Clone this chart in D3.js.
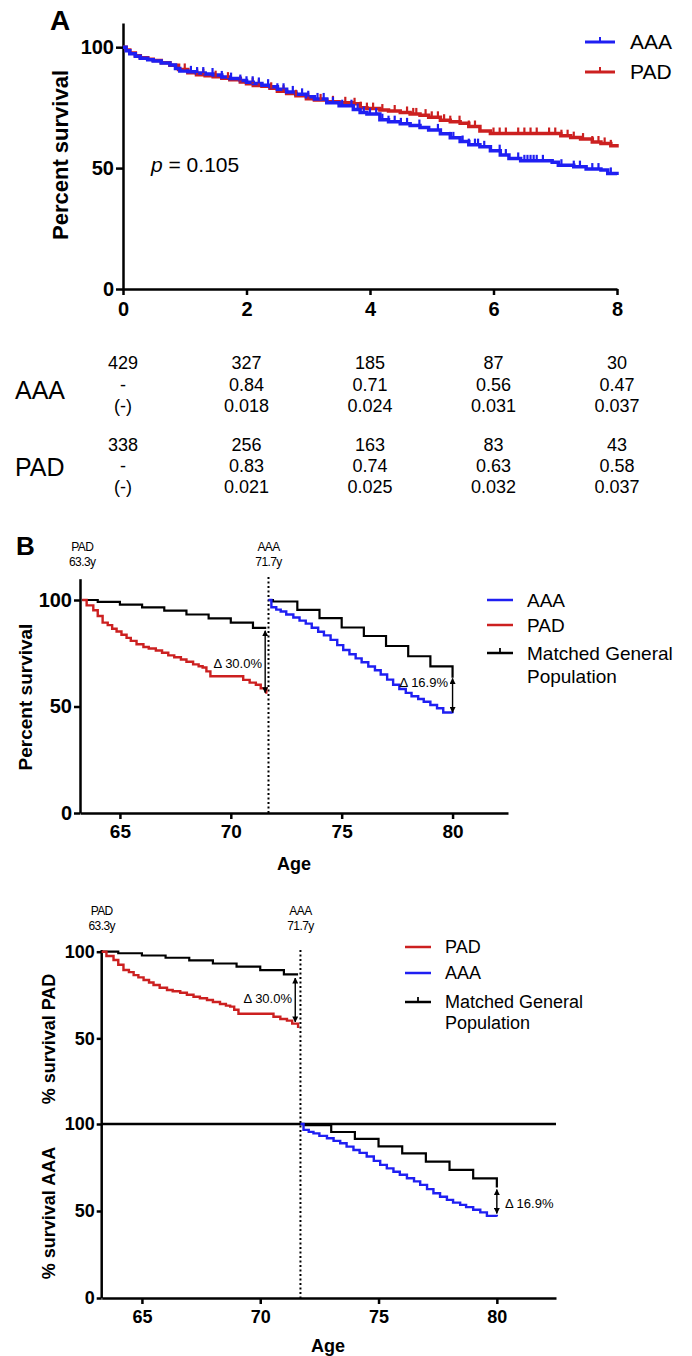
<!DOCTYPE html>
<html lang="en">
<head>
  <meta charset="UTF-8">
  <title>Survival: AAA vs PAD</title>
  <script src="https://d3js.org/d3.v7.min.js"></script>
  <style>
    body { margin: 0; background: #fff; }
    svg text { font-family: "Liberation Sans", Arial, sans-serif; fill: #000; }
    .axis path, .axis line { stroke: #000; stroke-width: 2.5px; }
    .axis text { font-weight: bold; }
    .km { fill: none; stroke-linejoin: miter; }
  </style>
</head>
<body>
<svg id="fig" width="692" height="1356"></svg>
<script>
  // ---- data ----
  const blue = "#1f1ff2", red = "#cc2020";

  // panel A: Kaplan-Meier, years since surgery -> % survival
  const aaaKM = [[0,100],[0.05,98.5],[0.11,97.3],[0.2,96.3],[0.28,95.4],[0.4,94.8],[0.49,94.3],[0.62,93.5],
    [0.76,92.6],[0.85,91.2],[0.92,90.2],[1.05,89.8],[1.19,89.3],[1.33,88.9],[1.46,88.5],[1.6,87.7],[1.73,87.0],
    [1.9,86.2],[2.0,85.5],[2.11,85.0],[2.25,84.3],[2.38,83.6],[2.5,82.6],[2.65,81.5],[2.8,80.5],[2.97,79.5],
    [3.1,78.6],[3.3,77.0],[3.5,75.8],[3.73,74.2],[3.84,73.0],[3.95,72.4],[4.16,70.0],[4.3,69.2],[4.49,68.3],
    [4.65,67.6],[4.81,66.8],[4.95,65.8],[5.14,64.2],[5.3,62.5],[5.46,61.0],[5.6,59.7],[5.78,58.8],[5.95,57.2],
    [6.11,55.4],[6.25,54.0],[6.44,53.0],[6.95,52.4],[7.05,51.2],[7.3,50.6],[7.5,49.6],[7.74,49.2],[7.85,47.8],[8.0,47.1]];
  const padKM = [[0,100],[0.05,98.8],[0.11,97.6],[0.2,96.5],[0.28,95.6],[0.4,95.0],[0.49,94.5],[0.62,93.6],
    [0.76,92.5],[0.9,90.8],[1.05,89.4],[1.19,88.6],[1.33,88.2],[1.46,87.8],[1.6,87.2],[1.73,86.5],[1.9,85.6],
    [2.0,84.9],[2.11,84.2],[2.25,83.8],[2.38,83.0],[2.5,81.8],[2.65,80.8],[2.8,79.9],[2.97,78.7],[3.1,78.2],
    [3.3,77.4],[3.5,77.0],[3.73,76.6],[3.84,75.0],[3.95,74.6],[4.16,74.0],[4.3,73.6],[4.49,73.0],[4.65,72.4],
    [4.81,71.9],[4.95,71.0],[5.14,69.8],[5.3,69.2],[5.46,68.5],[5.6,67.2],[5.78,65.3],[5.95,64.3],[6.9,64.3],
    [7.09,63.4],[7.25,62.6],[7.41,62.0],[7.6,60.8],[7.74,60.2],[7.9,59.2],[8.0,58.5]];
  const aaaCensor = [1.1,1.2,1.3,1.45,1.6,1.75,1.9,2.0,2.1,2.2,2.35,2.5,2.6,2.75,2.9,3.0,3.15,3.25,3.4,3.55,3.7,
    3.8,3.9,4.0,4.1,4.2,4.3,4.4,4.5,4.6,4.8,5.1,5.3,5.35,5.5,5.6,5.7,5.75,5.85,6.1,6.2,6.4,6.5,6.55,6.6,6.65,
    6.7,6.8,7.1,7.3,7.4,7.6,7.7,7.9];
  const padCensor = [1.0,1.2,1.3,1.5,1.7,1.9,2.1,2.2,2.4,2.6,2.8,3.0,3.2,3.4,3.6,3.75,3.85,3.95,4.05,4.2,4.4,
    4.6,4.7,4.75,4.9,5.0,5.1,5.2,5.3,5.45,5.6,5.7,6.0,6.1,6.2,6.4,6.5,6.6,6.7,6.9,7.0,7.1,7.2,7.3,7.45,7.6,
    7.7,7.8,7.9];
  const yearTicks = [0, 2, 4, 6, 8];

  // number-at-risk table under panel A
  const aaaAtRisk = ["429", "327", "185", "87", "30"];
  const aaaSurv   = ["-", "0.84", "0.71", "0.56", "0.47"];
  const aaaSE     = ["(-)", "0.018", "0.024", "0.031", "0.037"];
  const padAtRisk = ["338", "256", "163", "83", "43"];
  const padSurv   = ["-", "0.83", "0.74", "0.63", "0.58"];
  const padSE     = ["(-)", "0.021", "0.025", "0.032", "0.037"];

  // panel B: survival by age
  const padAge = [[63.3,100],[63.5,97.5],[63.8,95.2],[64.0,92.5],[64.22,89.4],[64.45,88.2],[64.65,86.5],
    [64.85,85.2],[65.07,83.7],[65.3,82.2],[65.49,80.8],[65.75,79.2],[66.06,77.9],[66.3,77.2],[66.62,76.3],
    [66.9,75.2],[67.18,74.0],[67.45,73.1],[67.75,72.1],[68.0,71.0],[68.3,69.8],[68.55,68.9],[68.73,68.3],
    [68.9,66.5],[69.08,64.2],[70.28,64.2],[70.56,62.5],[70.85,61.2],[71.13,60.2],[71.35,58.5],[71.6,56.0]];
  const aaaAge = [[71.7,100],[71.83,96.6],[72.05,95.5],[72.25,94.6],[72.5,93.2],[72.82,91.8],[73.1,90.3],
    [73.38,88.9],[73.65,87.0],[73.94,85.1],[74.2,83.4],[74.5,81.3],[74.8,78.8],[75.07,76.5],[75.35,74.5],
    [75.63,72.6],[75.9,70.8],[76.2,68.8],[76.5,67.0],[76.76,65.0],[77.05,62.6],[77.32,60.2],[77.6,58.2],
    [77.89,56.4],[78.15,54.8],[78.45,53.5],[78.7,52.2],[79.0,50.7],[79.3,49.2],[79.58,47.2],[80.0,46.8]];
  const genPadAge = [[63.3,100],[64,99.1],[65,97.8],[66,96.5],[67,95.0],[68,93.2],[69,91.4],[70,89.4],
    [71,86.9],[71.6,86.9]];
  const genAaaAge = [[71.7,100],[71.9,99.3],[73,95.4],[74,91.5],[75,87.1],[76,83.1],[77,78.4],[78,73.6],
    [79,68.8],[80,63.5]];
  const ageTicks = [65, 70, 75, 80];
  const padStart = 63.3, aaaStart = 71.7;

  // ---- drawing ----
  const svg = d3.select("#fig");
  const defs = svg.append("defs");
  defs.append("marker").attr("id", "head")
    .attr("viewBox", "0 0 6 6").attr("refX", 5.5).attr("refY", 3)
    .attr("markerWidth", 6).attr("markerHeight", 6).attr("markerUnits", "userSpaceOnUse")
    .attr("orient", "auto-start-reverse")
    .append("path").attr("d", "M0,0 L6,3 L0,6 Z").attr("fill", "#000");

  function stepPath(g, data, x, y, color, width) {
    const line = d3.line().x(d => x(d[0])).y(d => y(d[1])).curve(d3.curveStepAfter);
    g.append("path").datum(data).attr("class", "km").attr("d", line)
      .attr("stroke", color).attr("stroke-width", width);
  }

  function survAt(km, t) {
    const i = d3.bisector(d => d[0]).right(km, t) - 1;
    return km[Math.max(i, 0)][1];
  }

  function styleAxis(g, size) {
    g.attr("font-size", null).attr("font-family", null);
    g.selectAll("text").style("font-size", size + "px");
  }

  // ===== Panel A =====
  const xA = d3.scaleLinear().domain([0, 8]).range([123, 617]);
  const yA = d3.scaleLinear().domain([0, 110]).range([289, 23]);

  const gA = svg.append("g");
  const axAx = gA.append("g").attr("class", "axis").attr("transform", "translate(0,289)")
    .call(d3.axisBottom(xA).tickValues(yearTicks).tickSize(6).tickSizeOuter(0).tickPadding(7).tickFormat(d3.format("d")));
  styleAxis(axAx, 20);
  const ayAx = gA.append("g").attr("class", "axis").attr("transform", "translate(123,0)")
    .call(d3.axisLeft(yA).tickValues([0, 50, 100]).tickSize(7).tickSizeOuter(0).tickPadding(2));
  styleAxis(ayAx, 20);

  stepPath(gA, padKM, xA, yA, red, 3.5);
  stepPath(gA, aaaKM, xA, yA, blue, 3.5);

  [[padCensor, padKM, red], [aaaCensor, aaaKM, blue]].forEach(([cens, km, col]) => {
    gA.selectAll(null).data(cens).enter().append("line")
      .attr("x1", d => xA(d)).attr("x2", d => xA(d))
      .attr("y1", d => yA(survAt(km, d))).attr("y2", d => yA(survAt(km, d)) - 6)
      .attr("stroke", col).attr("stroke-width", 2.2);
  });

  gA.append("text").attr("x", 50).attr("y", 30).attr("font-size", 28).attr("font-weight", "bold").text("A");
  gA.append("text").attr("transform", "translate(60,155) rotate(-90)").attr("text-anchor", "middle")
    .attr("dy", "0.35em").attr("font-size", 22).attr("font-weight", "bold").text("Percent survival");
  const pTxt = gA.append("text").attr("x", 151).attr("y", 172).attr("font-size", 21);
  pTxt.append("tspan").attr("font-style", "italic").text("p");
  pTxt.append("tspan").text(" = 0.105");

  [["AAA", blue, 42], ["PAD", red, 72]].forEach(([name, col, yy]) => {
    gA.append("line").attr("x1", 585).attr("x2", 615).attr("y1", yy).attr("y2", yy)
      .attr("stroke", col).attr("stroke-width", 3);
    gA.append("line").attr("x1", 600).attr("x2", 600).attr("y1", yy).attr("y2", yy - 5)
      .attr("stroke", col).attr("stroke-width", 2);
    gA.append("text").attr("x", 630).attr("y", yy).attr("dy", "0.35em").attr("font-size", 21).text(name);
  });

  // table
  const tab = svg.append("g").attr("font-size", 18).attr("text-anchor", "middle");
  [[aaaAtRisk, 363], [aaaSurv, 384.5], [aaaSE, 406], [padAtRisk, 445], [padSurv, 466], [padSE, 487]]
    .forEach(([row, yy]) => {
      row.forEach((v, i) => {
        tab.append("text").attr("x", xA(yearTicks[i])).attr("y", yy).attr("dy", "0.35em").text(v);
      });
    });
  svg.append("text").attr("x", 15).attr("y", 390).attr("dy", "0.35em").attr("font-size", 25).text("AAA");
  svg.append("text").attr("x", 15).attr("y", 467).attr("dy", "0.35em").attr("font-size", 25).text("PAD");

  // helpers for B panels
  function onsetLabel(g, x, y, name, age) {
    const t = g.append("text").attr("text-anchor", "middle").attr("font-size", 12)
      .attr("letter-spacing", "-0.6px").attr("fill", "#222");
    t.append("tspan").attr("x", x).attr("y", y).text(name);
    t.append("tspan").attr("x", x).attr("y", y + 15).text(age.toFixed(1) + "y");
  }
  function deltaArrow(g, x, y1, y2) {
    g.append("line").attr("x1", x).attr("x2", x).attr("y1", y1).attr("y2", y2)
      .attr("stroke", "#000").attr("stroke-width", 1.4)
      .attr("marker-start", "url(#head)").attr("marker-end", "url(#head)");
  }
  function legend(g, x, items, size, gap) {
    items.forEach(([name, col, yy, tick]) => {
      g.append("line").attr("x1", x).attr("x2", x + 26).attr("y1", yy).attr("y2", yy)
        .attr("stroke", col).attr("stroke-width", 2.5);
      if (tick) g.append("line").attr("x1", x + 13).attr("x2", x + 13).attr("y1", yy).attr("y2", yy - 5)
        .attr("stroke", col).attr("stroke-width", 1.8);
      const t = g.append("text").attr("x", x + 40).attr("y", yy).attr("dy", "0.35em").attr("font-size", size);
      name.split("\n").forEach((s, i) => t.append("tspan").attr("x", x + 40).attr("dy", i ? gap : "0.35em").text(s));
    });
  }

  // ===== Panel B =====
  const xB = d3.scaleLinear().domain([63.2, 82.5]).range([80, 508]);
  const yB = d3.scaleLinear().domain([0, 110]).range([813, 578.7]);
  const gB = svg.append("g");
  const bx = gB.append("g").attr("class", "axis").attr("transform", "translate(0,813)")
    .call(d3.axisBottom(xB).tickValues(ageTicks).tickSize(6).tickSizeOuter(0).tickPadding(6));
  styleAxis(bx, 19);
  const by = gB.append("g").attr("class", "axis").attr("transform", "translate(80,0)")
    .call(d3.axisLeft(yB).tickValues([0, 50, 100]).tickSize(6).tickSizeOuter(0).tickPadding(2));
  styleAxis(by, 20);

  gB.append("line").attr("x1", xB(aaaStart)).attr("x2", xB(aaaStart)).attr("y1", 577).attr("y2", 813)
    .attr("stroke", "#000").attr("stroke-width", 2).attr("stroke-dasharray", "2,2.5");

  stepPath(gB, genPadAge, xB, yB, "#000", 2.2);
  stepPath(gB, genAaaAge, xB, yB, "#000", 2.2);
  stepPath(gB, padAge, xB, yB, red, 2.4);
  stepPath(gB, aaaAge, xB, yB, blue, 2.4);

  deltaArrow(gB, xB(71.55), yB(85.6), yB(56.5));
  deltaArrow(gB, xB(80), yB(63.2), yB(47.2));
  gB.append("text").attr("x", 262).attr("y", 663).attr("dy", "0.35em").attr("text-anchor", "end")
    .attr("font-size", 13).attr("fill", "#333").text("\u0394 30.0%");
  gB.append("text").attr("x", 448).attr("y", 682).attr("dy", "0.35em").attr("text-anchor", "end")
    .attr("font-size", 13).attr("fill", "#333").text("\u0394 16.9%");

  gB.append("text").attr("x", 16).attr("y", 555).attr("font-size", 26).attr("font-weight", "bold").text("B");
  onsetLabel(gB, xB(padStart), 551, "PAD", padStart);
  onsetLabel(gB, xB(aaaStart), 551, "AAA", aaaStart);
  gB.append("text").attr("transform", "translate(25,697) rotate(-90)").attr("text-anchor", "middle")
    .attr("dy", "0.35em").attr("font-size", 19).attr("font-weight", "bold").text("Percent survival");
  gB.append("text").attr("x", 294).attr("y", 864).attr("dy", "0.35em").attr("text-anchor", "middle")
    .attr("font-size", 18).attr("font-weight", "bold").text("Age");
  legend(gB, 487, [["AAA", blue, 600, false], ["PAD", red, 625, false],
    ["Matched General\nPopulation", "#000", 653, true]], 19, 23);

  // ===== Panel C (split axis) =====
  const xC = d3.scaleLinear().domain([63.3, 82.5]).range([101.7, 556]);
  const yC1 = d3.scaleLinear().domain([0, 100]).range([1125, 951.7]);
  const yC2 = d3.scaleLinear().domain([0, 100]).range([1298, 1124]);
  const gC = svg.append("g");
  const cx = gC.append("g").attr("class", "axis").attr("transform", "translate(0,1298)")
    .call(d3.axisBottom(xC).tickValues(ageTicks).tickSize(6).tickSizeOuter(0).tickPadding(6));
  styleAxis(cx, 18);
  [[yC1, [50, 100]], [yC2, [0, 50, 100]]].forEach(([sc, tv]) => {
    const a = gC.append("g").attr("class", "axis").attr("transform", "translate(101.7,0)")
      .call(d3.axisLeft(sc).tickValues(tv).tickSize(5).tickSizeOuter(0).tickPadding(2));
    a.select(".domain").remove();
    styleAxis(a, 18);
  });
  gC.append("line").attr("x1", 101.7).attr("x2", 101.7).attr("y1", 950).attr("y2", 1298)
    .attr("stroke", "#000").attr("stroke-width", 2.5);
  gC.append("line").attr("x1", 101.7).attr("x2", 556).attr("y1", yC2(100)).attr("y2", yC2(100))
    .attr("stroke", "#000").attr("stroke-width", 2.5);
  gC.append("line").attr("x1", xC(aaaStart)).attr("x2", xC(aaaStart)).attr("y1", 950).attr("y2", 1298)
    .attr("stroke", "#000").attr("stroke-width", 2).attr("stroke-dasharray", "2,2.5");

  stepPath(gC, genPadAge, xC, yC1, "#000", 2.2);
  stepPath(gC, padAge, xC, yC1, red, 2.4);
  stepPath(gC, genAaaAge, xC, yC2, "#000", 2.2);
  stepPath(gC, aaaAge, xC, yC2, blue, 2.4);

  deltaArrow(gC, xC(71.48), yC1(84.8), yC1(59.5));
  deltaArrow(gC, xC(80), yC2(62.3), yC2(48.6));
  gC.append("text").attr("x", 292).attr("y", 998).attr("dy", "0.35em").attr("text-anchor", "end")
    .attr("font-size", 13).attr("fill", "#333").text("\u0394 30.0%");
  gC.append("text").attr("x", 505).attr("y", 1203).attr("dy", "0.35em")
    .attr("font-size", 13).attr("fill", "#333").text("\u0394 16.9%");

  onsetLabel(gC, xC(padStart), 915, "PAD", padStart);
  onsetLabel(gC, xC(aaaStart), 915, "AAA", aaaStart);
  gC.append("text").attr("transform", "translate(49,1039) rotate(-90)").attr("text-anchor", "middle")
    .attr("dy", "0.35em").attr("font-size", 18).attr("font-weight", "bold").text("% survival PAD");
  gC.append("text").attr("transform", "translate(49,1213) rotate(-90)").attr("text-anchor", "middle")
    .attr("dy", "0.35em").attr("font-size", 18).attr("font-weight", "bold").text("% survival AAA");
  gC.append("text").attr("x", 328).attr("y", 1346).attr("dy", "0.35em").attr("text-anchor", "middle")
    .attr("font-size", 18).attr("font-weight", "bold").text("Age");
  legend(gC, 405, [["PAD", red, 947, false], ["AAA", blue, 973, false],
    ["Matched General\nPopulation", "#000", 1002, true]], 18, 21);
</script>
</body>
</html>
